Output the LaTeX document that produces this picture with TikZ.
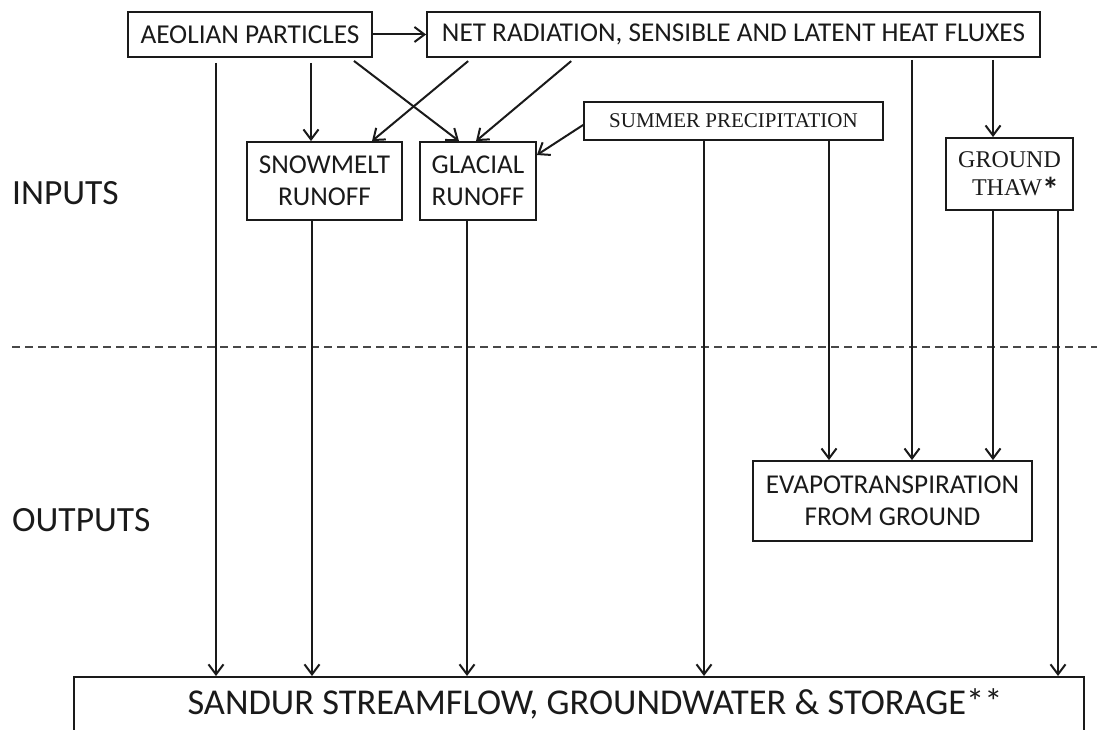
\documentclass[tikz,border=0pt]{standalone}
\usepackage{fontspec}
\setmainfont{Carlito}
\newfontfamily\tmsfont{Liberation Serif}
\usetikzlibrary{arrows.meta}
\definecolor{ink}{HTML}{1A1A1A}
\tikzset{
  boxnode/.style={draw=ink, line width=1.8pt, inner sep=0pt, align=center, text=ink},
  arr/.style={draw=ink, line width=2pt, -{Straight Barb[length=10pt,width=15pt,line width=2pt]}},
  gapstart/.style={shorten <=5pt},
  sidelabel/.style={anchor=west, inner sep=0pt, text=ink, font=\fontsize{35.5}{40}\selectfont}
}
\begin{document}
\begin{tikzpicture}[x=1pt,y=-1pt]
\useasboundingbox (0,0) rectangle (1097,730);
% boxes
\node[boxnode, minimum width=244pt, minimum height=45pt, font=\fontsize{27.3}{30}\selectfont] (aeol) at (250,34.5) {AEOLIAN PARTICLES};
\node[boxnode, minimum width=613pt, minimum height=45pt, font=\fontsize{27.2}{30}\selectfont] (net) at (733.5,34.5) {NET RADIATION, SENSIBLE AND LATENT HEAT FLUXES};
\node[boxnode, minimum width=155pt, minimum height=78pt, font=\fontsize{27.2}{32}\selectfont] (snow) at (324.5,181) {SNOWMELT\\RUNOFF};
\node[boxnode, minimum width=116pt, minimum height=78pt, font=\fontsize{27.2}{32}\selectfont] (glac) at (478,181) {GLACIAL\\RUNOFF};
\node[boxnode, minimum width=299pt, minimum height=38pt, font=\tmsfont\fontsize{21}{24}\selectfont] (summ) at (733.5,121) {SUMMER PRECIPITATION};
\node[boxnode, minimum width=127pt, minimum height=72pt, font=\tmsfont\fontsize{24}{28}\selectfont] (thaw) at (1009.5,174) {GROUND\\\hspace*{12pt}THAW{\normalfont\bfseries\fontsize{34}{28}\selectfont\smash{\raisebox{-6pt}{*}}}};
\node[boxnode, minimum width=279pt, minimum height=80pt, font=\fontsize{27.2}{32}\selectfont] (evap) at (892.5,501) {EVAPOTRANSPIRATION\\FROM GROUND};
\node[boxnode, anchor=north, minimum width=1010pt, text height=38pt, text depth=60pt, font=\fontsize{36.4}{40}\selectfont] (sand) at (579,676) {\hspace*{32pt}SANDUR STREAMFLOW, GROUNDWATER \& STORAGE**};
% side labels
\node[sidelabel] (inputs) at (12,193) {INPUTS};
\node[sidelabel] (outputs) at (12,520) {OUTPUTS};
% dashed divider
\coordinate (dashL) at (12,347);
\coordinate (dashR) at (1097,347);
\draw[draw=ink!80, line width=1.6pt, dash pattern=on 8pt off 5pt] (dashL) -- (dashR);
% connectors
\draw[arr] (aeol.east) -- (net.west);
\draw[arr, gapstart] ([xshift=-34pt]aeol.south) -- ([xshift=-34pt]aeol.south |- sand.north);
\draw[arr, gapstart] ([xshift=61pt]aeol.south) -- ([xshift=61pt]aeol.south |- snow.north);
\draw[arr, gapstart] ([xshift=100pt]aeol.south) -- ([xshift=-19pt]glac.north);
\draw[arr, gapstart] ([xshift=-261.5pt]net.south) -- ([xshift=47.5pt]snow.north);
\draw[arr, gapstart] ([xshift=-158.5pt]net.south) -- ([xshift=-2pt]glac.north);
\draw[arr] ([yshift=-4pt]summ.west) -- ([yshift=26pt]glac.east);
\draw[arr] ([xshift=-29.5pt]summ.south) -- ([xshift=-29.5pt]summ.south |- sand.north);
\draw[arr] ([xshift=95.5pt]summ.south) -- ([xshift=95.5pt]summ.south |- evap.north);
\draw[arr, shorten <=2pt] ([xshift=178.5pt]net.south) -- ([xshift=178.5pt]net.south |- evap.north);
\draw[arr, shorten <=2pt] ([xshift=259.5pt]net.south) -- ([xshift=259.5pt]net.south |- thaw.north);
\draw[arr] ([xshift=-16.5pt]thaw.south) -- ([xshift=-16.5pt]thaw.south |- evap.north);
\draw[arr] ([xshift=48.5pt]thaw.south) -- ([xshift=48.5pt]thaw.south |- sand.north);
\draw[arr] ([xshift=-12.5pt]snow.south) -- ([xshift=-12.5pt]snow.south |- sand.north);
\draw[arr] ([xshift=-11pt]glac.south) -- ([xshift=-11pt]glac.south |- sand.north);
\end{tikzpicture}
\end{document}
